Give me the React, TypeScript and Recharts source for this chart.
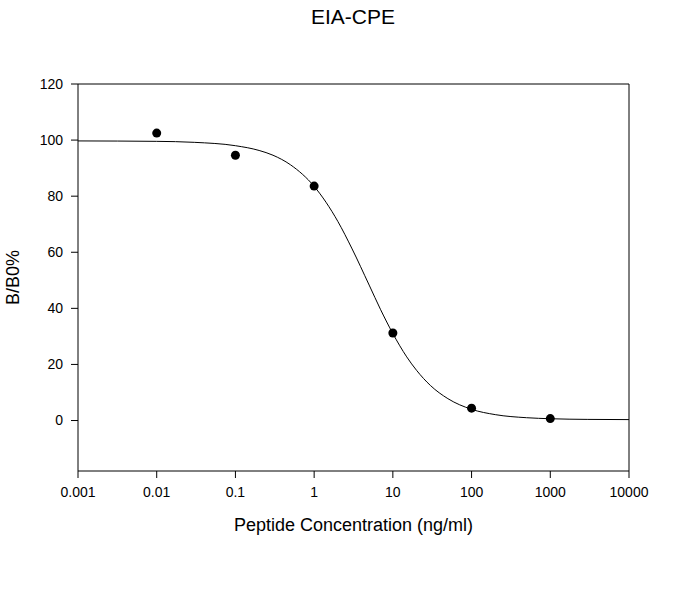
import React from 'react';
import {
  ComposedChart,
  Line,
  Scatter,
  XAxis,
  YAxis,
  ReferenceLine,
  Label,
} from 'recharts';

const chartTitle = 'EIA-CPE';
const xAxisTitle = 'Peptide Concentration (ng/ml)';
const yAxisTitle = 'B/B0%';

const xTicks = [0.001, 0.01, 0.1, 1, 10, 100, 1000, 10000];
const xTickLabels = ['0.001', '0.01', '0.1', '1', '10', '100', '1000', '10000'];
const yTicks = [0, 20, 40, 60, 80, 100, 120];

// measured points
const pointConc = [0.01, 0.1, 1, 10, 100, 1000];
const pointValue = [102.5, 94.6, 83.6, 31.2, 4.4, 0.7];

// fitted curve
const curveConc = [0.001, 0.01, 0.03, 0.1, 0.2, 0.3, 0.5, 1, 2, 3, 5, 7, 10, 15, 20, 30, 50, 100, 200, 500, 1000, 3000, 10000];
const curveValue = [99.7, 99.55, 99.2, 98.0, 96.3, 94.6, 91.2, 83.5, 71.0, 61.5, 48.3, 39.5, 31.0, 22.7, 17.9, 12.5, 7.8, 4.0, 2.1, 1.0, 0.64, 0.4, 0.33];

const points = pointConc.map((x, i) => ({ x, y: pointValue[i] }));
const curve = curveConc.map((x, i) => ({ x, y: curveValue[i] }));

const FONT = '"Liberation Sans", Arial, sans-serif';

export default function App() {
  return (
    <div style={{ position: 'absolute', left: 0, top: 0, width: 682, height: 603, background: '#fff', fontFamily: FONT }}>
      <div
        style={{
          position: 'absolute',
          left: 0,
          top: 6,
          width: 706,
          textAlign: 'center',
          fontSize: 21,
          lineHeight: '21px',
          color: '#000',
        }}
      >
        {chartTitle}
      </div>
      <ComposedChart
        width={682}
        height={603}
        margin={{ top: 84, right: 53, bottom: 72, left: 0 }}
        style={{ fontFamily: FONT }}
      >
        <XAxis
          dataKey="x"
          type="number"
          scale="log"
          domain={[0.001, 10000]}
          allowDataOverflow
          ticks={xTicks}
          tickFormatter={(v: number) => {
            const i = xTicks.indexOf(v);
            return i >= 0 ? xTickLabels[i] : String(v);
          }}
          height={60}
          stroke="#000"
          tickSize={7}
          tickMargin={9}
          tick={{ fill: '#000', fontSize: 14 }}
          tickLine={{ stroke: '#000' }}
          axisLine={{ stroke: '#000' }}
        >
          <Label value={xAxisTitle} position="insideBottom" offset={0} style={{ fontSize: 18, fill: '#000' }} />
        </XAxis>
        <YAxis
          dataKey="y"
          type="number"
          domain={[-18, 120]}
          allowDataOverflow
          ticks={yTicks}
          width={78}
          stroke="#000"
          tickSize={7}
          tickMargin={8}
          tick={{ fill: '#000', fontSize: 14 }}
          tickLine={{ stroke: '#000' }}
          axisLine={{ stroke: '#000' }}
        >
          <Label
            value={yAxisTitle}
            angle={-90}
            position="insideLeft"
            offset={13}
            style={{ fontSize: 18, fill: '#000', textAnchor: 'middle' }}
          />
        </YAxis>
        <ReferenceLine y={120} stroke="#000" strokeWidth={1} />
        <ReferenceLine x={10000} stroke="#000" strokeWidth={1} />
        <Line
          data={curve}
          dataKey="y"
          type="monotone"
          stroke="#000"
          strokeWidth={1}
          dot={false}
          activeDot={false}
          isAnimationActive={false}
        />
        <Scatter
          data={points}
          dataKey="y"
          fill="#000"
          isAnimationActive={false}
          shape={(p: any) => <circle cx={p.cx} cy={p.cy} r={4.5} fill="#000" />}
        />
      </ComposedChart>
    </div>
  );
}
